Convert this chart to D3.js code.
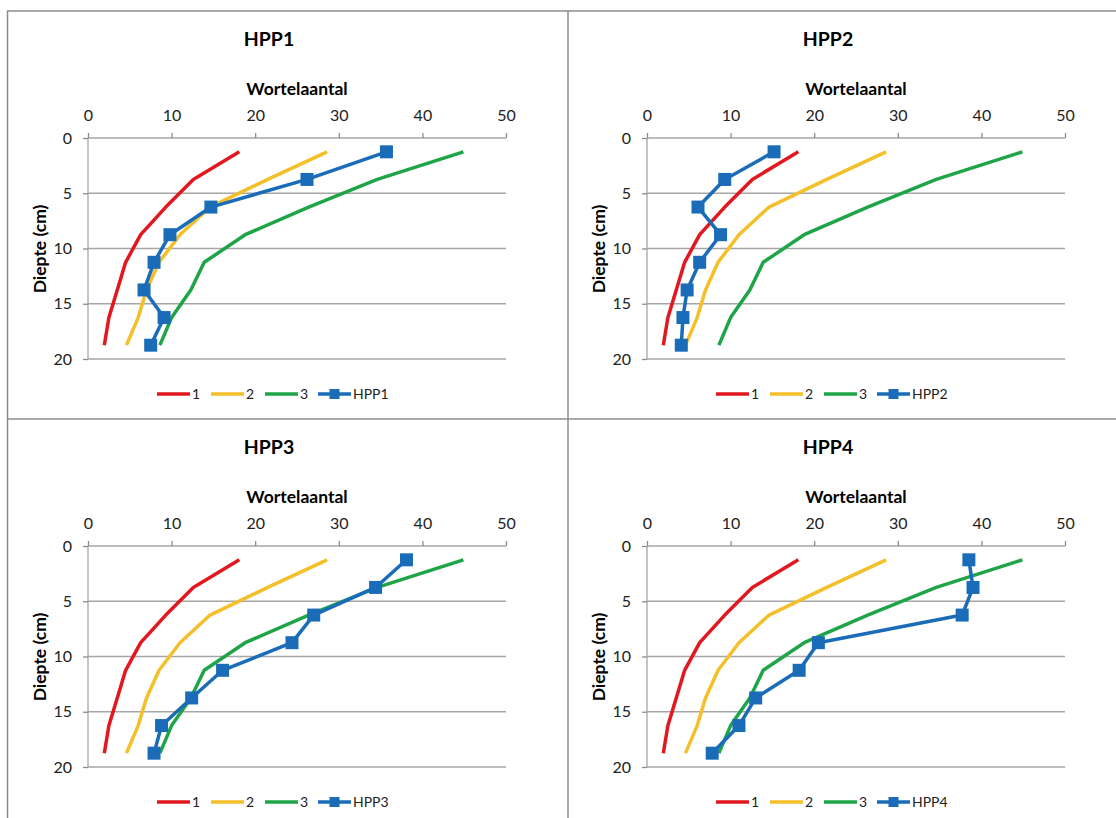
<!DOCTYPE html>
<html>
<head>
<meta charset="utf-8">
<script src="https://cdn.jsdelivr.net/npm/d3@7"></script>
<style>
  html, body { margin: 0; padding: 0; background: #fff; }
  svg { display: block; font-family: Lato, "Liberation Sans", sans-serif; }
</style>
</head>
<body>
<svg id="chart" width="1116" height="818"></svg>
<script>
// ---- data ----
const depths = [1.25, 3.75, 6.25, 8.75, 11.25, 13.75, 16.25, 18.75];
const xTicks = [0, 10, 20, 30, 40, 50];
const yTicks = [0, 5, 10, 15, 20];
const ref1 = [18.1, 12.6, 9.3, 6.3, 4.5, 3.5, 2.5, 1.95];
const ref2 = [28.6, 21.5, 14.6, 11.0, 8.5, 7.0, 6.0, 4.6];
const ref3 = [44.9, 34.6, 26.4, 18.8, 13.9, 12.3, 10.0, 8.6];
const hpp1 = [35.7, 26.2, 14.7, 9.8, 7.9, 6.7, 9.1, 7.5];
const hpp2 = [15.2, 9.3, 6.1, 8.8, 6.3, 4.8, 4.3, 4.1];
const hpp3 = [38.1, 34.4, 27.0, 24.4, 16.1, 12.4, 8.8, 7.9];
const hpp4 = [38.5, 39.0, 37.7, 20.5, 18.2, 13.0, 11.0, 7.8];
const panelNames = ["HPP1", "HPP2", "HPP3", "HPP4"];
const panelData = [hpp1, hpp2, hpp3, hpp4];
const refNames = ["1", "2", "3"];
const refData = [ref1, ref2, ref3];
const refColors = ["#e3171f", "#f5bf2a", "#1fa548"];
const blue = "#1a6cb8";
const xTitle = "Wortelaantal";
const yTitle = "Diepte (cm)";

const svg = d3.select("#chart");
const offsets = [[0, 0], [559, 0], [0, 408], [559, 408]];

// panel frame lines
const frame = "#8c8c8c";
svg.append("line").attr("x1", 7).attr("x2", 1116).attr("y1", 11).attr("y2", 11).attr("stroke", frame).attr("stroke-width", 1.5);
svg.append("line").attr("x1", 7.5).attr("x2", 7.5).attr("y1", 11).attr("y2", 818).attr("stroke", frame).attr("stroke-width", 1.5);
svg.append("line").attr("x1", 568).attr("x2", 568).attr("y1", 11).attr("y2", 818).attr("stroke", frame).attr("stroke-width", 1.5);
svg.append("line").attr("x1", 7).attr("x2", 1116).attr("y1", 419).attr("y2", 419).attr("stroke", frame).attr("stroke-width", 1.5);

const x = d3.scaleLinear().domain([0, 50]).range([88, 506]);
const y = d3.scaleLinear().domain([0, 20]).range([138, 359]);

panelNames.forEach((name, i) => {
  const g = svg.append("g").attr("transform", `translate(${offsets[i][0]},${offsets[i][1]})`);

  g.append("text").attr("x", 269).attr("y", 46).attr("text-anchor", "middle")
    .attr("font-size", 19.5).attr("font-weight", "bold").attr("fill", "#000").text(name);
  g.append("text").attr("x", 297).attr("y", 95).attr("text-anchor", "middle")
    .attr("font-size", 17.5).attr("font-weight", "bold").attr("fill", "#000").text(xTitle);
  g.append("text").attr("transform", `translate(46,249) rotate(-90)`).attr("text-anchor", "middle")
    .attr("font-size", 17.5).attr("font-weight", "bold").attr("fill", "#000").text(yTitle);

  // gridlines
  g.append("g").selectAll("line").data(yTicks.slice(1)).join("line")
    .attr("x1", x(0)).attr("x2", x(50)).attr("y1", d => y(d)).attr("y2", d => y(d))
    .attr("stroke", "#a6a6a6").attr("stroke-width", 1.3);

  // top axis
  const xa = g.append("g").attr("transform", `translate(0,${y(0)})`)
    .call(d3.axisTop(x).tickValues(xTicks).tickSize(5).tickPadding(12).tickFormat(d3.format("d")));
  xa.select(".domain").attr("stroke", "#a6a6a6").attr("stroke-width", 1.3).attr("d", `M${x(0)},0H${x(50)}`);
  xa.selectAll(".tick line").attr("stroke", "#8c8c8c").attr("stroke-width", 1.3);
  xa.selectAll(".tick text").attr("font-size", 16).attr("fill", "#222").attr("font-family", "Lato, sans-serif");

  // left axis
  const ya = g.append("g").attr("transform", `translate(${x(0)},0)`)
    .call(d3.axisLeft(y).tickValues(yTicks).tickSize(5).tickPadding(11).tickFormat(d3.format("d")));
  ya.select(".domain").attr("stroke", "#a6a6a6").attr("stroke-width", 1.3).attr("d", `M0,${y(0)}V${y(20)}`);
  ya.selectAll(".tick line").attr("stroke", "#8c8c8c").attr("stroke-width", 1.3);
  ya.selectAll(".tick text").attr("font-size", 16).attr("fill", "#222").attr("font-family", "Lato, sans-serif");

  const line = d3.line().x(d => x(d[0])).y(d => y(d[1]));

  refData.forEach((vals, k) => {
    g.append("path").datum(vals.map((v, j) => [v, depths[j]]))
      .attr("d", line).attr("fill", "none").attr("stroke", refColors[k])
      .attr("stroke-width", 3.5).attr("stroke-linejoin", "round");
  });

  const pts = panelData[i].map((v, j) => [v, depths[j]]);
  g.append("path").datum(pts).attr("d", line).attr("fill", "none")
    .attr("stroke", blue).attr("stroke-width", 3.5).attr("stroke-linejoin", "round");
  g.append("g").selectAll("rect").data(pts).join("rect")
    .attr("x", d => x(d[0]) - 6.5).attr("y", d => y(d[1]) - 6.5)
    .attr("width", 13).attr("height", 13).attr("fill", blue);

  // legend
  const ly = 394;
  const items = [
    {label: "1", color: refColors[0], x0: 157, marker: false},
    {label: "2", color: refColors[1], x0: 211, marker: false},
    {label: "3", color: refColors[2], x0: 265, marker: false},
    {label: name, color: blue, x0: 318, marker: true}
  ];
  items.forEach(it => {
    g.append("line").attr("x1", it.x0).attr("x2", it.x0 + 33).attr("y1", ly).attr("y2", ly)
      .attr("stroke", it.color).attr("stroke-width", 3.5);
    if (it.marker) {
      g.append("rect").attr("x", it.x0 + 16.5 - 5).attr("y", ly - 5).attr("width", 10).attr("height", 10).attr("fill", it.color);
    }
    g.append("text").attr("x", it.x0 + 35).attr("y", ly + 5).attr("font-size", 14)
      .attr("fill", "#222").text(it.label);
  });
});
</script>
</body>
</html>
